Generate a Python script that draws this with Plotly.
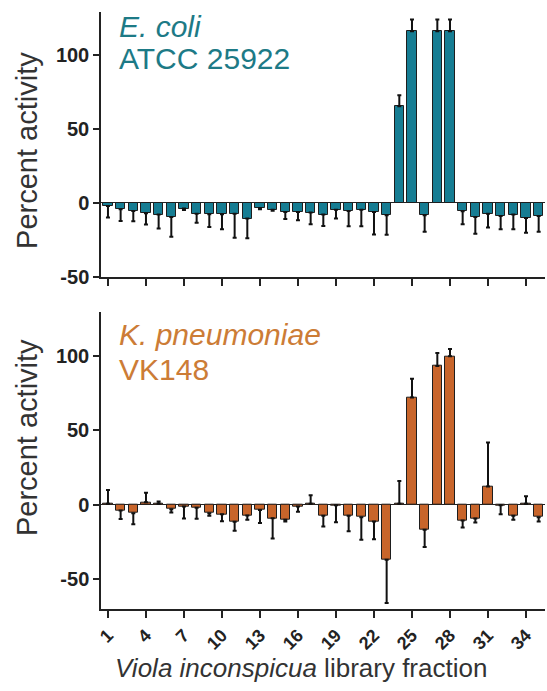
import plotly.graph_objects as go

fractions = [1, 2, 3, 4, 5, 6, 7, 8, 9, 10, 11, 12, 13, 14, 15, 16, 17, 18,
             19, 20, 21, 22, 23, 24, 25, 26, 27, 28, 29, 30, 31, 32, 33, 34, 35]
tick_vals = [1, 4, 7, 10, 13, 16, 19, 22, 25, 28, 31, 34]
tick_text = ["1", "4", "7", "10", "13", "16", "19", "22", "25", "28", "31", "34"]
y_ticks = [-50, 0, 50, 100]
y_tick_text = ["-50", "0", "50", "100"]

ecoli_values = [-2.2, -4.5, -5.6, -7.2, -8, -9.6, -4, -7.4, -7.8, -7.8, -7.4, -10.7,
                -3.6, -4.7, -6.3, -6.3, -6.7, -8, -4.7, -5.6, -4.7, -6.3, -8.5, 65.3,
                116, -8.5, 116, 116, -5.8, -9.6, -7.4, -9, -8, -10.3, -9]
ecoli_err = [7.8, 7.8, 6.9, 7.6, 9.4, 13.4, 1, 6.2, 8.7, 10.1, 16.3, 13.3,
             0.9, 0.8, 4.7, 5.6, 7.8, 7.7, 6, 10.4, 11.3, 15.2, 13.2, 7.4,
             8, 11.2, 8, 8, 8.7, 11.4, 9.4, 8.9, 10, 10.1, 10.7]

kpn_values = [0.5, -4, -5.8, 1.5, 0.5, -3.1, -1.3, -2.2, -5.8, -6.5, -11.6, -7.4,
              -3.6, -9.2, -10.3, -1.3, 0.5, -7.6, -0.5, -7.6, -8.5, -11.4, -37.1, 0.5,
              72, -17, 93.3, 99.8, -10.7, -9.4, 12.1, -0.5, -7.6, 0.5, -8.5]
kpn_err = [9.3, 5.8, 7.4, 6.5, 1.5, 2.3, 8.1, 7.4, 1.8, 4.7, 6.1, 2.9,
           8.9, 13.6, 1.1, 3.6, 5.8, 7.2, 11.4, 10.4, 15.2, 11.9, 29.1, 15.4,
           12.6, 11.6, 8.7, 4.9, 4.7, 2.7, 29.7, 6, 2.7, 5.1, 2.9]

TEAL_BAR = "#167d93"
TEAL_TXT = "#1d7a86"
ORANGE_BAR = "#c8652b"
ORANGE_TXT = "#cc7c36"
FONT = "Liberation Sans, Arial, sans-serif"


def split_err(vals, errs):
    up = [e if v >= 0 else 0 for v, e in zip(vals, errs)]
    down = [e if v < 0 else 0 for v, e in zip(vals, errs)]
    return up, down


fig = go.Figure()
for vals, errs, color, xa, ya in [
    (ecoli_values, ecoli_err, TEAL_BAR, "x", "y"),
    (kpn_values, kpn_err, ORANGE_BAR, "x2", "y2"),
]:
    up, down = split_err(vals, errs)
    fig.add_trace(go.Bar(
        x=fractions, y=vals, xaxis=xa, yaxis=ya, width=0.73,
        marker=dict(color=color, line=dict(color="#1e1e1e", width=1)),
        error_y=dict(type="data", symmetric=False, array=up, arrayminus=down,
                     color="#111111", thickness=2, width=2),
        showlegend=False,
    ))

xaxis_common = dict(
    range=[0.45, 35.5], showline=True, linecolor="#222", linewidth=1.5,
    ticks="outside", ticklen=7, tickwidth=1.5, tickcolor="#222",
    tickvals=tick_vals, showgrid=False, zeroline=False,
)
yaxis_common = dict(
    showline=True, linecolor="#222", linewidth=1.5,
    ticks="outside", ticklen=6, tickwidth=1.5, tickcolor="#222",
    tickvals=y_ticks, ticktext=y_tick_text, showgrid=False, zeroline=True,
    zerolinecolor="#222", zerolinewidth=1.2,
    tickfont=dict(family=FONT, size=20, color="#222", weight="bold"),
)

fig.update_layout(
    width=547, height=691,
    margin=dict(l=101, r=2, t=12, b=82),
    paper_bgcolor="white", plot_bgcolor="white",
    bargap=0,
    xaxis=dict(**xaxis_common, anchor="y", showticklabels=False),
    yaxis=dict(**yaxis_common, domain=[0.556, 1], range=[-50.3, 129], anchor="x"),
    xaxis2=dict(**xaxis_common, anchor="y2", ticktext=tick_text, tickangle=-45,
                tickfont=dict(family=FONT, size=18, color="#222", weight="bold")),
    yaxis2=dict(**yaxis_common, domain=[0, 0.498], range=[-70.3, 129.8], anchor="x2"),
)

ann = [
    dict(text="<i>E. coli</i>", x=0.035, y=0.975, color=TEAL_TXT),
    dict(text="ATCC 25922", x=0.035, y=0.922, color=TEAL_TXT),
    dict(text="<i>K. pneumoniae</i>", x=0.035, y=0.459, color=ORANGE_TXT),
    dict(text="VK148", x=0.035, y=0.402, color=ORANGE_TXT),
]
for a in ann:
    fig.add_annotation(text=a["text"], xref="paper", yref="paper", x=a["x"], y=a["y"],
                       xanchor="left", yanchor="middle", showarrow=False,
                       font=dict(family=FONT, size=30, color=a["color"]))

for yc in [0.769, 0.288]:
    fig.add_annotation(text="Percent activity", xref="paper", yref="paper",
                       x=-0.1667, y=yc, xanchor="center", yanchor="middle",
                       textangle=-90, showarrow=False,
                       font=dict(family=FONT, size=29, color="#333"))

fig.add_annotation(text="<i>Viola inconspicua</i> library fraction", xref="paper",
                   yref="paper", x=0.45, y=-0.0988, xanchor="center", yanchor="middle",
                   showarrow=False, font=dict(family=FONT, size=26, color="#333"))

fig.write_html("out.html")
